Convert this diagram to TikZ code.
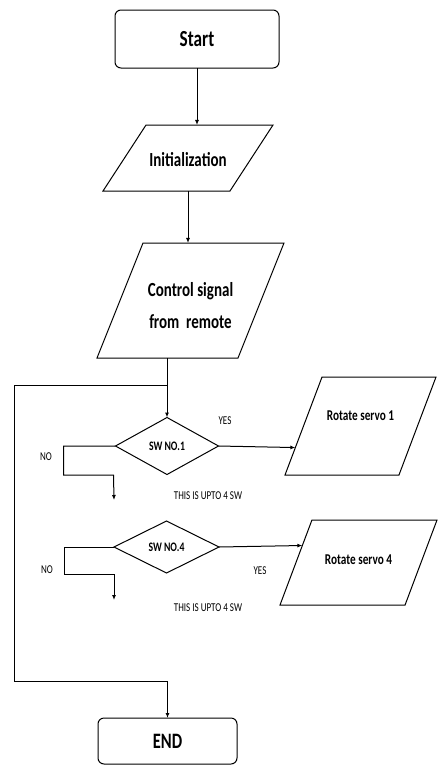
\documentclass[tikz,border=0pt]{standalone}
\usepackage{fontspec}
\newfontfamily\flowfont{Carlito}[FakeStretch=0.75]
\usetikzlibrary{shapes.geometric,arrows.meta,calc}
\begin{document}
\begin{tikzpicture}[
	x=1pt,y=-1pt,
	line width=1pt,
	arr/.style={-{Latex[length=5pt,width=4pt]}},
	term/.style={draw,rectangle,rounded corners=6pt,inner sep=0pt,outer sep=0pt},
	io/.style={draw,trapezium,trapezium stretches body,inner sep=0pt,outer sep=0pt,align=center},
	decide/.style={draw,diamond,inner sep=0pt,outer sep=0pt,font={\flowfont\bfseries\fontsize{13}{15}\selectfont}},
	note/.style={inner sep=0pt,font={\flowfont\fontsize{12}{14}\selectfont}}
]
	\useasboundingbox (0,0) rectangle (437,766);
	\node[term,minimum width=164pt,minimum height=58pt,font={\flowfont\bfseries\fontsize{23}{26}\selectfont}] (start) at (197,39) {Start};
	\node[io,trapezium left angle=56.9,trapezium right angle=123.1,minimum width=170pt,text height=41.4pt,text depth=24.6pt,font={\flowfont\bfseries\fontsize{20}{24}\selectfont}] (init) at (188,158) {Initialization};
	\node[io,trapezium left angle=68.2,trapezium right angle=111.8,minimum width=187pt,text height=85.4pt,text depth=29.6pt,font={\flowfont\bfseries\fontsize{20}{24}\selectfont}] (ctrl) at (190.5,300.5) {Control signal\\[8pt]from~ remote};
	\node[decide,minimum width=103pt,minimum height=57pt] (sw1) at (167,446) {SW NO.1};
	\node[io,trapezium left angle=69.3,trapezium right angle=110.7,minimum width=151pt,text height=43pt,text depth=55pt,font={\flowfont\bfseries\fontsize{15}{18}\selectfont}] (rs1) at (360.5,426) {Rotate servo 1};
	\node[decide,minimum width=105pt,minimum height=52pt] (sw4) at (166.5,547) {SW NO.4};
	\node[io,trapezium left angle=69.4,trapezium right angle=110.6,minimum width=157pt,text height=44pt,text depth=41pt,font={\flowfont\bfseries\fontsize{15}{18}\selectfont}] (rs4) at (358.5,562.5) {Rotate servo 4};
	\node[term,minimum width=139pt,minimum height=46pt,font={\flowfont\bfseries\fontsize{22}{26}\selectfont}] (end) at (167.5,741) {END};
	\node[note] (yes1) at (225,421) {YES};
	\node[note] (no1) at (46,457) {NO};
	\node[note] (upto1) at (208,496) {THIS IS UPTO 4 SW};
	\node[note] (yes4) at (260,571) {YES};
	\node[note] (no4) at (47,570) {NO};
	\node[note] (upto4) at (208,608) {THIS IS UPTO 4 SW};
	\coordinate (loop) at (167,385);
	\coordinate (back) at (14,681);
	\coordinate (next1) at (114,500);
	\coordinate (next4) at (114,600);
	\draw[arr] (start) -- (start |- init.north);
	\draw[arr] (init.south) -- (init.south |- ctrl.north);
	\draw[arr] (sw1 |- ctrl.south) -- (sw1.north);
	\draw[arr] (loop) -| (back) -| (end.north);
	\draw[arr] (sw1.east) -- ($(rs1.top left corner)!0.72!(rs1.bottom left corner)$);
	\draw[arr] (sw4.east) -- ($(rs4.top left corner)!0.3!(rs4.bottom left corner)$);
	\draw[arr] (sw1.west) -- ++(-52,0) -- ++(0,29) -- ++(50,0) -- (next1);
	\draw[arr] (sw4.west) -- ++(-50,0) -- ++(0,27) -- ++(50,0) -- (next4);
\end{tikzpicture}
\end{document}
